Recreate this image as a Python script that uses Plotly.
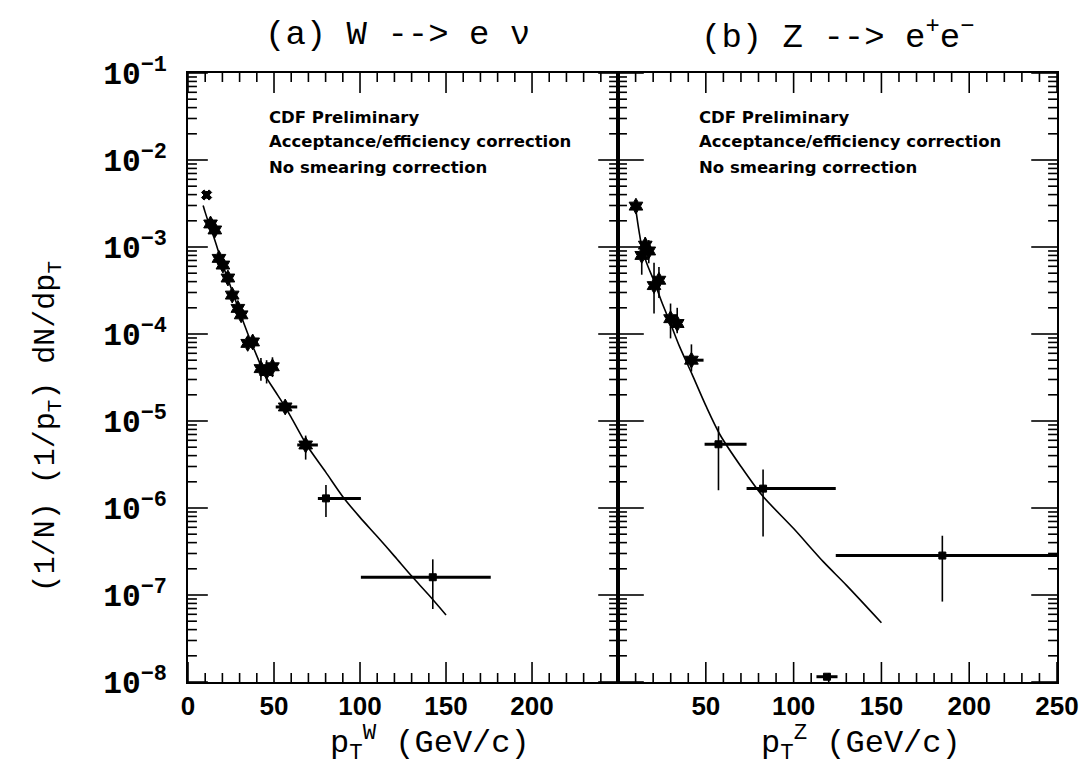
import plotly.graph_objects as go

# ---------------- data ----------------
# Panel (a) W -> e nu
w_pt    = [10.8, 13.1, 15.6, 18.0, 20.3, 23.2, 25.7, 29.0, 30.9, 34.7, 37.6, 42.4, 45.7, 49.1, 56.5, 68.4, 80.2, 142.3]
w_val   = [3.96e-3, 1.84e-3, 1.57e-3, 7.4e-4, 6.2e-4, 4.4e-4, 2.8e-4, 1.97e-4, 1.66e-4, 7.8e-5, 8.1e-5, 4.0e-5, 3.7e-5, 4.2e-5, 1.45e-5, 5.3e-6, 1.29e-6, 1.6e-7]
w_lo    = [3.6e-3, 1.6e-3, 1.35e-3, 6.5e-4, 5.4e-4, 3.8e-4, 2.4e-4, 1.7e-4, 1.4e-4, 6.5e-5, 6.7e-5, 2.9e-5, 2.7e-5, 3.2e-5, 1.25e-5, 3.6e-6, 7.9e-7, 6.9e-8]
w_hi    = [4.4e-3, 2.1e-3, 1.8e-3, 8.4e-4, 7.1e-4, 5.1e-4, 3.2e-4, 2.3e-4, 1.95e-4, 9.4e-5, 9.8e-5, 5.3e-5, 5.0e-5, 5.4e-5, 1.7e-5, 6.8e-6, 1.84e-6, 2.57e-7]
w_xlo   = [10.8, 13.1, 15.6, 18.0, 20.3, 23.2, 25.7, 29.0, 30.9, 34.7, 37.6, 42.4, 45.7, 49.1, 51.0, 63.5, 75.5, 100.5]
w_xhi   = [10.8, 13.1, 15.6, 18.0, 20.3, 23.2, 25.7, 29.0, 30.9, 34.7, 37.6, 42.4, 45.7, 49.1, 63.5, 75.5, 100.5, 176.0]
w_sym   = ["x"] + ["hexagram"] * 15 + ["square", "square"]

w_curve_pt  = [8.8, 10, 12, 15, 20, 25, 30, 35, 40, 45, 50, 56.5, 60, 69, 80, 90, 100, 110, 120, 130, 140, 150]
w_curve_val = [3.0e-3, 2.5e-3, 1.9e-3, 1.3e-3, 6.4e-4, 3.4e-4, 1.8e-4, 9.8e-5, 5.6e-5, 3.3e-5, 2.3e-5, 1.45e-5,
               1.1e-5, 5.3e-6, 2.6e-6, 1.35e-6, 7.8e-7, 4.7e-7, 2.8e-7, 1.65e-7, 1.0e-7, 5.9e-8]

# Panel (b) Z -> e+ e-
z_pt    = [10.2, 13.5, 15.5, 17.5, 20.5, 23.3, 29.9, 33.7, 41.8, 57.2, 82.6, 184.7, 119.0]
z_val   = [2.95e-3, 8.0e-4, 1.05e-3, 9.0e-4, 3.6e-4, 4.15e-4, 1.5e-4, 1.32e-4, 5.0e-5, 5.4e-6, 1.67e-6, 2.84e-7, 1.15e-8]
z_lo    = [2.5e-3, 4.8e-4, 7.5e-4, 6.5e-4, 1.72e-4, 2.6e-4, 8.9e-5, 1.02e-4, 3.7e-5, 1.6e-6, 4.7e-7, 8.4e-8, 1.15e-8]
z_hi    = [3.4e-3, 1.0e-3, 1.3e-3, 1.2e-3, 6.6e-4, 5.9e-4, 2.24e-4, 2.0e-4, 7.6e-5, 8.7e-6, 2.77e-6, 4.8e-7, 1.15e-8]
z_xlo   = [10.2, 13.5, 15.5, 17.5, 20.5, 23.3, 29.9, 33.7, 38.4, 49.3, 73.2, 124.0, 113.0]
z_xhi   = [10.2, 13.5, 15.5, 17.5, 20.5, 23.3, 29.9, 33.7, 48.7, 73.2, 124.0, 250.0, 125.0]
z_sym   = ["hexagram"] * 9 + ["square", "square", "square", "square"]

z_curve_pt  = [10, 12, 14, 17, 20, 25, 30, 35, 42, 50, 58, 70, 82, 100, 117, 130, 150]
z_curve_val = [2.8e-3, 1.5e-3, 9.0e-4, 6.0e-4, 4.3e-4, 2.3e-4, 1.3e-4, 7.2e-5, 3.5e-5, 1.5e-5, 7.0e-6,
               3.0e-6, 1.4e-6, 5.8e-7, 2.4e-7, 1.3e-7, 4.8e-8]

x_major = [0, 50, 100, 150, 200, 250]
x_labels_a = ["0", "50", "100", "150", "200", ""]
x_labels_b = ["", "50", "100", "150", "200", "250"]
y_major = [10.0 ** e for e in range(-8, 0)]

notes = ["CDF Preliminary", "Acceptance/efficiency correction", "No smearing correction"]

# minor tick positions (axis decoration)
x_minor = [v for v in range(0, 251, 10) if v % 50]
y_minor = [m * 10.0 ** e for e in range(-8, -1) for m in range(2, 10)]

# ---------------- geometry ----------------
W, H = 1091, 766
L, R, T, B = 188, 26, 73, 84
PW = W - L - R
PH = H - T - B
split = (622 - L) / PW
XMAX, YLOG0, YLOG1 = 250.0, -8.0, -1.0
px_per_dec = PH / (YLOG1 - YLOG0)
px_per_gev_a = split * PW / XMAX
px_per_gev_b = (1 - split) * PW / XMAX

MONO = "Liberation Mono, Courier New, monospace"
NARROW = "Liberation Sans Narrow, Liberation Sans, Arial, sans-serif"

def diff(a, b):
    return [x - y for x, y in zip(a, b)]

fig = go.Figure()

def tick_segments(px_gev, len_left, len_right, len_x):
    """Inside tick marks of one panel frame, built from tick positions and pixel lengths."""
    xs, ys = [], []
    ybot, ytop = 10 ** YLOG0, 10 ** YLOG1
    for vals, ln in ((x_major, len_x[0]), (x_minor, len_x[1])):
        f = 10 ** (ln / px_per_dec)
        for v in vals:
            xs += [v, v, None, v, v, None]
            ys += [ybot, ybot * f, None, ytop, ytop / f, None]
    for vals, k in ((y_major, 0), (y_minor, 1)):
        for t in vals:
            xs += [0, len_left[k] / px_gev, None, XMAX, XMAX - len_right[k] / px_gev, None]
            ys += [t, t, None, t, t, None]
    return xs, ys

def add_panel(xa, ya, pt, val, lo, hi, xlo, xhi, sym, cpt, cval, px_gev, len_left, len_right):
    tx, ty = tick_segments(px_gev, len_left, len_right, (20, 9))
    fig.add_trace(go.Scatter(x=tx, y=ty, mode="lines", xaxis=xa, yaxis=ya,
                             line=dict(color="black", width=1.6), showlegend=False, hoverinfo="skip"))
    fig.add_trace(go.Scatter(
        x=cpt, y=cval, mode="lines", xaxis=xa, yaxis=ya,
        line=dict(color="black", width=1.6, shape="spline", smoothing=0.8),
        showlegend=False, hoverinfo="skip"))
    fig.add_trace(go.Scatter(
        x=pt, y=val, mode="markers", xaxis=xa, yaxis=ya,
        marker=dict(symbol=sym, size=[9 if s == "x" else (7 if s == "square" else 12) for s in sym],
                    color="black", opacity=1, line=dict(color="black", width=1)),
        error_y=dict(type="data", symmetric=False, array=diff(hi, val), arrayminus=diff(val, lo),
                     color="black", thickness=1.6, width=0),
        error_x=dict(type="data", symmetric=False, array=diff(xhi, pt), arrayminus=diff(pt, xlo),
                     color="black", thickness=3, width=0),
        showlegend=False))

add_panel("x", "y", w_pt, w_val, w_lo, w_hi, w_xlo, w_xhi, w_sym, w_curve_pt, w_curve_val,
          px_per_gev_a, (20, 9), (20, 9))
add_panel("x2", "y2", z_pt, z_val, z_lo, z_hi, z_xlo, z_xhi, z_sym, z_curve_pt, z_curve_val,
          px_per_gev_b, (26, 9), (26, 9))

xaxis_common = dict(range=[0, XMAX], tickmode="array", tickvals=x_major, ticks="", showline=True,
                    linecolor="black", linewidth=2, mirror=True, showgrid=False, zeroline=False,
                    tickfont=dict(family=NARROW, size=26, color="black"))
yaxis_common = dict(type="log", range=[YLOG0, YLOG1], tickmode="linear", tick0=0, dtick=1,
                    exponentformat="power", showexponent="all", ticks="", showline=True,
                    linecolor="black", linewidth=2, mirror=True, showgrid=False, zeroline=False)

fig.update_layout(
    width=W, height=H, autosize=False,
    margin=dict(l=L, r=R, t=T, b=B),
    plot_bgcolor="white", paper_bgcolor="white",
    xaxis=dict(domain=[0, split], anchor="y", ticktext=["<b>%s</b>" % s for s in x_labels_a], **xaxis_common),
    xaxis2=dict(domain=[split, 1], anchor="y2", ticktext=["<b>%s</b>" % s for s in x_labels_b], **xaxis_common),
    yaxis=dict(anchor="x", tickfont=dict(family=MONO, size=25, color="black"), ticklabelstandoff=14,
               tickprefix="<b>", ticksuffix="</b>", **yaxis_common),
    yaxis2=dict(anchor="x2", showticklabels=False, **yaxis_common),
)

ann = []
# panel titles
ann.append(dict(text="(a) W --> e \u03bd", xref="paper", yref="paper", x=(399 - L) / PW, y=(H - B - 35) / PH,
                showarrow=False, font=dict(family=MONO, size=34, color="black"), xanchor="center", yanchor="middle"))
ann.append(dict(text="(b) Z --> e<sup>+</sup>e<sup>\u2212</sup>", xref="paper", yref="paper", x=(843 - L) / PW,
                y=(H - B - 35) / PH, showarrow=False, font=dict(family=MONO, size=34, color="black"),
                xanchor="center", yanchor="middle"))
# axis titles
ann.append(dict(text="p<sub>T</sub><sup>W</sup> (GeV/c)", xref="paper", yref="paper", x=(432 - L) / PW,
                y=(H - B - 743) / PH, showarrow=False, font=dict(family=MONO, size=32, color="black"),
                xanchor="center", yanchor="middle"))
ann.append(dict(text="p<sub>T</sub><sup>Z</sup> (GeV/c)", xref="paper", yref="paper", x=(867 - L) / PW,
                y=(H - B - 743) / PH, showarrow=False, font=dict(family=MONO, size=32, color="black"),
                xanchor="center", yanchor="middle"))
ann.append(dict(text="(1/N) (1/p<sub>T</sub>) dN/dp<sub>T</sub>", xref="paper", yref="paper", x=(46 - L) / PW,
                y=(H - B - 427) / PH, showarrow=False, textangle=-90,
                font=dict(family=MONO, size=30, color="black"), xanchor="center", yanchor="middle"))
# notes
note_logy = [-1.506, -1.793, -2.09]
for xr, yr, x0 in (("x", "y", 46.0), ("x2", "y2", 45.0)):
    for t, ly in zip(notes, note_logy):
        ann.append(dict(text="<b>" + t + "</b>", xref=xr, yref=yr, x=x0, y=ly, showarrow=False,
                        xanchor="left", yanchor="middle",
                        font=dict(family="DejaVu Sans, sans-serif", size=16.5, color="black")))
fig.update_layout(annotations=ann)

fig.write_html("out.html")
